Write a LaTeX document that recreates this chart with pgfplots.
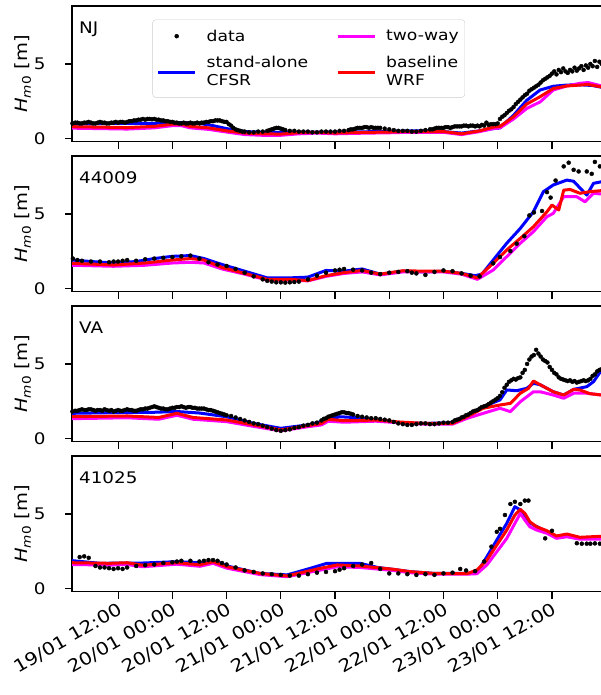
\documentclass[border=0pt]{standalone}
\usepackage{pgfplots}
\pgfplotsset{compat=1.18}
\usepackage{fontspec}
\setmainfont[FakeStretch=1.15]{DejaVu Sans}
\definecolor{cfsr}{RGB}{0,0,255}
\definecolor{twoway}{RGB}{255,0,255}
\definecolor{wrf}{RGB}{255,0,0}
\pgfplotsset{
  panel/.style={
    scale only axis, width=561.3bp, height=135.7bp,
    xmin=1.8, xmax=126, ymin=-0.23, ymax=8.9,
    xtick={12,24,...,108}, ytick={0,5},
    xtick pos=left, ytick pos=left,
    tick align=outside, major tick length=7bp,
    every tick/.append style={black, line width=1.1bp},
    axis line style={line width=1.1bp},
    font=\fontsize{16}{19}\selectfont,
    tick label style={font=\fontsize{16}{19}\selectfont},
    yticklabel style={xshift=-16bp},
    /pgf/number format/assume math mode=true,
    xticklabels={},
    clip=true,
  },
  dat/.style={only marks, mark=*, mark size=2bp, black,
    legend image code/.code={\draw[##1, mark repeat=2, mark phase=2] plot coordinates {(0bp,0bp) (18.5bp,0bp) (37bp,0bp)};}},
  ln/.style={no marks, line width=3bp, line join=round,
    legend image code/.code={\draw[##1, line width=3bp] (0bp,0bp) -- (37bp,0bp);}},
}
\newcommand{\hlab}{{\itshape H}\textsubscript{{\itshape m}0} [m]}
\begin{document}
\begin{tikzpicture}
% ---------------- NJ ----------------
\begin{axis}[panel, at={(72bp,553.3bp)}, anchor=south west,
  legend style={at={(0.1434,0.9)}, anchor=north west, draw=black!20, fill=white,
    rounded corners=3bp, font=\fontsize{15}{18}\selectfont,
    nodes={align=left, anchor=west, inner sep=2bp}, inner xsep=4bp, inner ysep=8bp,
    row sep=10bp,
    /tikz/every odd column/.append style={column sep=8bp},
    /tikz/every even column/.append style={column sep=26bp}},
  legend columns=2, transpose legend, legend cell align=left]
\addplot[dat] coordinates {(1.9,1.0)(2.5,1.05)(3,1.05)(3.5,1.0)(4,1.0)(4.5,1.05)(5,1.05)(5.5,1.1)(6,1.05)(6.5,1.0)(7,1.0)(7.5,1.05)(8,1.1)(8.5,1.05)(9,1.05)(9.5,1.0)(10,1.0)(10.5,1.05)(11,1.05)(11.5,1.1)(12,1.05)(12.5,1.1)(13,1.1)(13.5,1.05)(14,1.1)(14.5,1.15)(15,1.15)(15.5,1.2)(16,1.2)(16.5,1.25)(17,1.25)(17.5,1.3)(18,1.25)(18.5,1.3)(19,1.3)(19.5,1.28)(20,1.3)(20.5,1.25)(21,1.25)(21.5,1.2)(22,1.2)(22.5,1.15)(23,1.15)(23.5,1.1)(24,1.1)(24.5,1.05)(25,1.05)(25.5,1.0)(26,1.0)(26.5,1.05)(27,1.0)(27.5,1.0)(28,1.05)(28.5,1.0)(29,1.0)(29.5,1.05)(30,1.0)(30.5,1.05)(31,1.05)(31.5,1.1)(32,1.1)(32.5,1.15)(33,1.15)(33.5,1.2)(34,1.2)(34.5,1.2)(35,1.15)(35.5,1.1)(36,1.1)(36.5,0.95)(37,0.85)(37.5,0.7)(38,0.6)(38.5,0.55)(39,0.5)(39.5,0.45)(40,0.45)(41,0.4)(42,0.4)(43,0.45)(44,0.45)(45,0.5)(45.5,0.55)(46,0.6)(46.5,0.65)(47,0.7)(47.5,0.7)(48,0.65)(48.5,0.6)(49,0.55)(50,0.5)(51,0.5)(52,0.45)(53,0.45)(54,0.45)(55,0.4)(56,0.4)(57,0.45)(58,0.45)(59,0.45)(60,0.45)(61,0.5)(62,0.5)(63,0.55)(63.5,0.6)(64,0.6)(64.5,0.65)(65,0.7)(65.5,0.7)(66,0.7)(66.5,0.75)(67,0.75)(67.5,0.7)(68,0.75)(68.5,0.7)(69,0.7)(69.5,0.7)(70,0.7)(71,0.65)(72,0.6)(73,0.55)(74,0.5)(75,0.5)(76,0.5)(77,0.45)(78,0.45)(79,0.5)(80,0.55)(81,0.6)(81.5,0.6)(82,0.65)(82.5,0.7)(83,0.7)(83.5,0.7)(84,0.7)(84.5,0.75)(85,0.75)(85.5,0.7)(86,0.75)(86.5,0.8)(87,0.8)(87.5,0.8)(88,0.8)(88.5,0.85)(89,0.85)(89.5,0.8)(90,0.85)(90.5,0.85)(91,0.8)(91.5,0.85)(92,0.8)(92.5,0.9)(93,0.85)(93.5,1.05)(94,0.9)(94.5,0.95)(95,0.95)(95.5,0.95)(96,1.0)(96.5,1.3)(97,1.45)(97.5,1.55)(98,1.7)(98.5,1.85)(99,1.95)(99.5,2.1)(100,2.3)(100.5,2.45)(101,2.6)(101.5,2.75)(102,2.9)(102.5,3.0)(103,3.2)(103.5,3.3)(104,3.4)(104.5,3.5)(105,3.6)(105.5,3.75)(106,3.9)(106.5,4.0)(107,4.1)(107.5,4.2)(108,4.35)(108.5,4.5)(109,4.3)(109.5,4.6)(110,4.45)(110.5,4.7)(111,4.5)(111.5,4.4)(112,4.6)(112.5,4.5)(113,4.75)(113.5,4.55)(114,4.7)(114.5,4.85)(115,4.6)(115.5,4.9)(116,4.75)(116.5,5.0)(117,4.85)(117.5,5.2)(118,4.8)(118.5,5.15)(119,5.0)};
\addlegendentry{data}
\addplot[ln, cfsr] coordinates {(1.8,0.95)(6,0.97)(10,1.0)(16,1.0)(20,1.0)(23,1.05)(26,1.05)(30,1.0)(33,0.85)(36,0.65)(40,0.45)(45,0.4)(50,0.4)(55,0.42)(60,0.4)(65,0.43)(70,0.45)(76,0.5)(80,0.5)(84,0.45)(88,0.35)(92,0.5)(95,0.65)(96.5,0.7)(99.5,1.55)(102.4,2.55)(105.4,3.25)(108.3,3.5)(111.3,3.58)(114.2,3.6)(117,3.55)(119,3.43)};
\addlegendentry{stand-alone\\CFSR}
\addplot[ln, twoway] coordinates {(1.8,0.68)(8,0.65)(14,0.62)(20,0.7)(24,0.85)(26,0.85)(28,0.7)(32,0.6)(36,0.42)(40,0.25)(44,0.2)(48,0.2)(52,0.3)(56,0.35)(60,0.3)(64,0.33)(68,0.35)(72,0.37)(76,0.4)(80,0.4)(84,0.4)(88,0.25)(92,0.45)(95,0.65)(96.5,0.7)(99.5,1.3)(102.4,2.0)(105.4,2.45)(108.3,3.25)(111.3,3.52)(114.2,3.7)(116,3.75)(119,3.52)};
\addlegendentry{two-way}
\addplot[ln, wrf] coordinates {(1.8,0.78)(8,0.75)(14,0.72)(20,0.8)(24,0.95)(26,0.95)(28,0.8)(32,0.7)(36,0.5)(40,0.35)(44,0.3)(48,0.28)(52,0.38)(56,0.4)(60,0.35)(64,0.38)(68,0.4)(72,0.42)(76,0.45)(80,0.45)(84,0.45)(88,0.3)(92,0.5)(95,0.75)(96.5,0.8)(99.5,1.45)(102.4,2.3)(105.4,2.8)(108.3,3.35)(111.3,3.52)(114.2,3.58)(116,3.62)(119,3.45)};
\addlegendentry{baseline\\WRF}
\node[anchor=base west, font=\fontsize{16}{19}\selectfont] at (axis cs:2.6,7.07) {NJ};
\end{axis}
% ---------------- 44009 ----------------
\begin{axis}[panel, at={(72bp,403.3bp)}, anchor=south west]
\addplot[dat] coordinates {(2,2.0)(3,1.9)(4,1.85)(6,1.8)(8,1.8)(10,1.75)(11,1.8)(12,1.8)(13,1.85)(14,1.9)(16,1.85)(18,1.95)(20,2.0)(22,2.05)(24,2.1)(26,2.15)(28,2.2)(30,2.0)(32,1.75)(34,1.6)(36,1.5)(38,1.3)(40,1.05)(42,0.8)(44,0.6)(45,0.5)(46,0.45)(47,0.4)(48,0.4)(49,0.38)(50,0.4)(51,0.42)(52,0.45)(54,0.6)(56,0.85)(58,1.05)(60,1.2)(61,1.25)(62,1.3)(64,1.25)(66,1.2)(68,1.05)(70,0.95)(72,1.05)(74,1.1)(76,1.15)(77,1.05)(78,1.0)(80,0.9)(82,1.1)(84,1.2)(86,1.15)(88,1.0)(90,0.85)(92,0.8)(95,1.68)(96.5,2.1)(98.8,2.5)(100.2,3.0)(101.9,3.5)(103,4.9)(104,5.1)(105.8,5.2)(106.9,6.47)(107.7,6.1)(108.8,7.25)(110.6,8.2)(111.7,8.45)(112.8,7.97)(113.9,7.86)(115.7,7.86)(116.8,7.7)(117.5,8.5)(118.6,8.2)};
\addplot[ln, cfsr] coordinates {(1.8,1.9)(6,1.8)(11,1.7)(16,1.8)(20,2.0)(24,2.15)(28,2.2)(31,2.0)(35,1.6)(40,1.15)(45,0.7)(50,0.7)(54,0.75)(58,1.2)(62,1.15)(66,1.3)(70,0.95)(75,1.15)(80,1.1)(84,1.15)(88,1.0)(91,0.85)(92.5,0.95)(95,1.9)(98,3.03)(101,4.03)(103.9,5.15)(106.1,6.5)(108.3,6.95)(111.3,7.28)(112.8,7.2)(115.7,6.27)(117.2,7.06)(119,7.17)};
\addplot[ln, twoway] coordinates {(1.8,1.55)(11,1.48)(18,1.55)(24,1.7)(28,1.75)(31,1.7)(35,1.3)(40,0.95)(45,0.55)(50,0.55)(54,0.5)(58,0.8)(62,1.0)(66,1.1)(70,0.9)(75,1.1)(80,1.1)(84,1.1)(88,0.95)(91.5,0.6)(95,1.23)(98,2.13)(101,3.03)(103.9,3.81)(106.9,4.82)(108.3,5.04)(110.6,6.16)(113.5,6.16)(115.3,5.82)(117.2,6.39)(119,6.34)};
\addplot[ln, wrf] coordinates {(1.8,1.68)(11,1.57)(18,1.7)(24,1.9)(28,2.0)(31,1.9)(35,1.4)(40,1.0)(45,0.6)(50,0.6)(54,0.52)(58,0.85)(62,1.05)(66,1.2)(70,0.95)(75,1.18)(80,1.15)(84,1.15)(88,1.0)(91.5,0.7)(95,1.68)(98,2.58)(101,3.36)(103.9,4.14)(106.9,5.15)(108,5.6)(109.5,5.27)(110.6,6.6)(112,6.65)(114.2,6.39)(116.4,6.5)(119,6.57)};
\node[anchor=base west, font=\fontsize{16}{19}\selectfont] at (axis cs:2.6,7.07) {44009};
\end{axis}
% ---------------- VA ----------------
\begin{axis}[panel, at={(72bp,253.3bp)}, anchor=south west]
\addplot[dat] coordinates {(1.9,1.8)(2.5,1.85)(3,1.85)(3.5,1.9)(4,1.95)(4.5,1.9)(5,1.9)(5.5,1.95)(6,1.95)(6.5,1.9)(7,1.85)(7.5,1.9)(8,1.9)(8.5,1.85)(9,1.95)(9.5,1.9)(10,1.85)(10.5,1.9)(11,1.8)(11.5,1.85)(12,1.9)(12.5,1.85)(13,1.85)(13.5,1.9)(14,1.95)(14.5,1.9)(15,1.9)(15.5,1.85)(16,1.85)(16.5,1.9)(17,1.95)(17.5,1.95)(18,2.0)(18.5,2.0)(19,2.05)(19.5,2.1)(20,2.15)(20.5,2.1)(21,2.05)(21.5,2.0)(22,2.0)(22.5,1.95)(23,1.95)(23.5,2.0)(24,2.05)(24.5,2.05)(25,2.1)(25.5,2.1)(26,2.15)(26.5,2.1)(27,2.05)(27.5,2.1)(28,2.1)(28.5,2.05)(29,2.05)(29.5,2.0)(30,2.0)(30.5,2.0)(31,2.0)(31.5,1.95)(32,1.9)(32.5,1.9)(33,1.85)(33.5,1.8)(34,1.75)(34.5,1.7)(35,1.65)(35.5,1.6)(36,1.55)(37,1.5)(38,1.4)(39,1.3)(40,1.2)(41,1.1)(42,1.0)(43,0.95)(44,0.85)(45,0.75)(46,0.65)(47,0.55)(48,0.5)(49,0.55)(50,0.6)(51,0.7)(52,0.75)(53,0.85)(54,0.9)(55,1.0)(56,1.05)(57,1.2)(57.5,1.3)(58,1.35)(58.5,1.45)(59,1.5)(59.5,1.55)(60,1.6)(60.5,1.65)(61,1.7)(61.5,1.75)(62,1.75)(62.5,1.7)(63,1.7)(63.5,1.65)(64,1.6)(65,1.5)(66,1.45)(67,1.4)(68,1.35)(69,1.35)(70,1.3)(71,1.25)(72,1.2)(73,1.1)(74,1.0)(75,0.95)(76,0.9)(77,0.9)(78,0.95)(79,1.0)(80,1.0)(81,0.95)(82,0.95)(83,1.0)(84,1.05)(85,1.05)(86,1.1)(86.5,1.2)(87,1.25)(87.5,1.3)(88,1.4)(88.5,1.45)(89,1.55)(89.5,1.6)(90,1.7)(90.5,1.8)(91,1.85)(91.5,1.9)(92,2.0)(92.5,2.1)(93,2.15)(93.5,2.2)(94,2.3)(94.5,2.4)(95,2.5)(95.5,2.6)(96,2.7)(96.5,2.85)(97,3.1)(97.5,3.4)(98,3.6)(98.5,3.8)(99,3.9)(99.5,4.0)(100,3.95)(100.5,4.05)(101,4.1)(101.5,4.4)(102,4.6)(102.5,5.0)(103,5.3)(103.5,5.5)(104,5.6)(104.5,5.95)(105,5.7)(105.5,5.5)(106,5.3)(106.5,5.2)(107,5.1)(107.5,4.8)(108,4.6)(108.5,4.4)(109,4.3)(109.5,4.1)(110,4.0)(110.5,3.95)(111,3.9)(111.5,3.85)(112,3.9)(112.5,3.8)(113,3.85)(113.5,3.75)(114,3.8)(114.5,3.85)(115,3.9)(115.5,3.85)(116,3.9)(116.5,4.0)(117,4.2)(117.5,4.3)(118,4.5)(118.5,4.6)(119,4.65)};
\addplot[ln, cfsr] coordinates {(1.8,1.68)(10,1.72)(20,1.75)(25,1.8)(30,1.7)(36,1.45)(42,1.0)(48,0.67)(54,0.9)(58,1.2)(61,1.45)(64,1.4)(69,1.23)(74,1.05)(80,1.0)(86,1.05)(89.2,1.45)(92.8,2.13)(96.5,2.58)(98,3.25)(100.2,3.2)(102.4,3.36)(103.9,3.7)(105.4,3.6)(108.3,3.13)(110.6,2.91)(112.8,3.29)(115.7,3.47)(117.2,3.81)(119,4.6)};
\addplot[ln, twoway] coordinates {(1.8,1.32)(14,1.38)(21,1.28)(25,1.55)(28.6,1.28)(36,1.12)(42,0.8)(48,0.5)(54,0.78)(57,0.9)(58.5,1.15)(62,1.08)(66,1.12)(69,1.15)(74,1.05)(80,0.95)(86,0.95)(89.2,1.34)(92.8,1.68)(96.5,2.02)(98.8,1.79)(101,2.46)(103.9,3.13)(105.4,3.13)(108.3,2.91)(110.6,2.69)(112.8,3.03)(115.7,3.03)(119,2.91)};
\addplot[ln, wrf] coordinates {(1.8,1.45)(14,1.5)(21,1.4)(25,1.68)(28.6,1.4)(36,1.23)(42,0.9)(48,0.56)(54,0.85)(57,1.0)(58.5,1.28)(62,1.18)(66,1.2)(69,1.23)(74,1.1)(80,1.0)(86,1.0)(89.2,1.45)(92.8,2.02)(96.5,2.24)(98.8,2.35)(101,3.03)(102.8,3.36)(103.9,3.85)(105.4,3.6)(108.3,3.13)(110.6,2.91)(112.8,3.29)(114.2,3.25)(116.4,3.0)(119,2.91)};
\node[anchor=base west, font=\fontsize{16}{19}\selectfont] at (axis cs:2.6,7.07) {VA};
\end{axis}
% ---------------- 41025 ----------------
\begin{axis}[panel, at={(72bp,103.3bp)}, anchor=south west,
  xticklabels={19/01 12:00,20/01 00:00,20/01 12:00,21/01 00:00,21/01 12:00,22/01 00:00,22/01 12:00,23/01 00:00,23/01 12:00},
  xticklabel style={rotate=30, anchor=north east, inner sep=2bp, font=\fontsize{17.5}{20}\selectfont}]
\addplot[dat] coordinates {(3.5,2.1)(4.5,2.15)(5.5,2.05)(7,1.5)(8,1.4)(9,1.4)(10,1.35)(11,1.3)(12,1.35)(13,1.3)(14,1.4)(16,1.5)(18,1.55)(20,1.6)(22,1.7)(24,1.75)(25,1.8)(26,1.85)(28,1.85)(30,1.8)(31,1.85)(32,1.9)(33,1.9)(34,1.85)(35,1.7)(36,1.6)(38,1.4)(40,1.2)(42,1.1)(44,1.0)(46,0.95)(48,0.9)(50,0.85)(52,0.85)(54,0.95)(56,1.05)(58,1.1)(60,1.15)(61,1.25)(62,1.35)(64,1.5)(66,1.6)(68,1.7)(70,1.3)(72,1.0)(74,1.0)(76,0.95)(78,0.9)(80,0.95)(82,0.9)(84,1.0)(86,1.05)(87.7,1.3)(89,1.2)(91,1.15)(93,1.8)(94.6,2.8)(95.8,3.8)(96.5,4.0)(97.6,4.93)(98.8,5.67)(99.8,5.82)(101,5.67)(102,5.9)(102.8,5.9)(106.5,3.36)(108,3.87)(113.5,3.03)(114.6,3.0)(115.7,3.0)(116.5,3.0)(117.5,3.02)(118.6,3.0)};
\addplot[ln, cfsr] coordinates {(1.8,1.86)(8,1.68)(17.5,1.7)(25,1.79)(30.8,1.7)(33.9,1.79)(36.1,1.5)(43.4,1.0)(49.4,0.9)(54.5,1.34)(58.2,1.68)(65.5,1.68)(69.3,1.41)(76.6,1.12)(82,1.0)(88.4,1.0)(91.4,1.05)(93.6,2.12)(95.8,3.25)(98,4.37)(99.8,5.49)(101,5.27)(102.4,4.59)(103.9,4.26)(106.9,3.8)(109,3.43)(111.3,3.5)(114.2,3.36)(119,3.36)};
\addplot[ln, twoway] coordinates {(1.8,1.6)(10.2,1.56)(14,1.6)(17.5,1.45)(25,1.62)(30.1,1.48)(33,1.68)(36.1,1.35)(43.4,0.92)(49.4,0.78)(56.7,1.22)(60.5,1.45)(65.5,1.4)(72.9,1.2)(76.6,1.05)(82,0.95)(89.2,0.95)(91.4,0.98)(93.6,1.57)(95.8,2.46)(98,3.36)(99.8,4.37)(101,5.04)(102,4.59)(103.1,4.14)(104.6,3.92)(106.9,3.7)(109,3.36)(111.3,3.47)(114.2,3.3)(119,3.3)};
\addplot[ln, wrf] coordinates {(1.8,1.72)(10.2,1.68)(14,1.72)(17.5,1.55)(25,1.72)(30.1,1.58)(33,1.79)(36.1,1.45)(43.4,1.0)(49.4,0.83)(56.7,1.34)(60.5,1.57)(65.5,1.5)(72.9,1.28)(76.6,1.12)(82,1.0)(89.2,0.98)(91.4,1.23)(93.6,1.9)(95.8,2.91)(98,3.92)(99.8,4.93)(101,5.31)(102,5.04)(103.1,4.48)(104.6,4.14)(106.9,3.87)(109,3.52)(111.3,3.65)(114.2,3.43)(119,3.5)};
\node[anchor=base west, font=\fontsize{16}{19}\selectfont] at (axis cs:2.6,7.07) {41025};
\end{axis}
% y labels
\foreach \k in {0,1,2,3}{
  \node[rotate=90, font=\fontsize{17}{20}\selectfont] at (23bp,{(621-150*\k)*1bp}) {\hlab};
}
\pgfresetboundingbox
\path[use as bounding box] (0bp,0bp) rectangle (601bp,695bp);
\end{tikzpicture}
\end{document}
